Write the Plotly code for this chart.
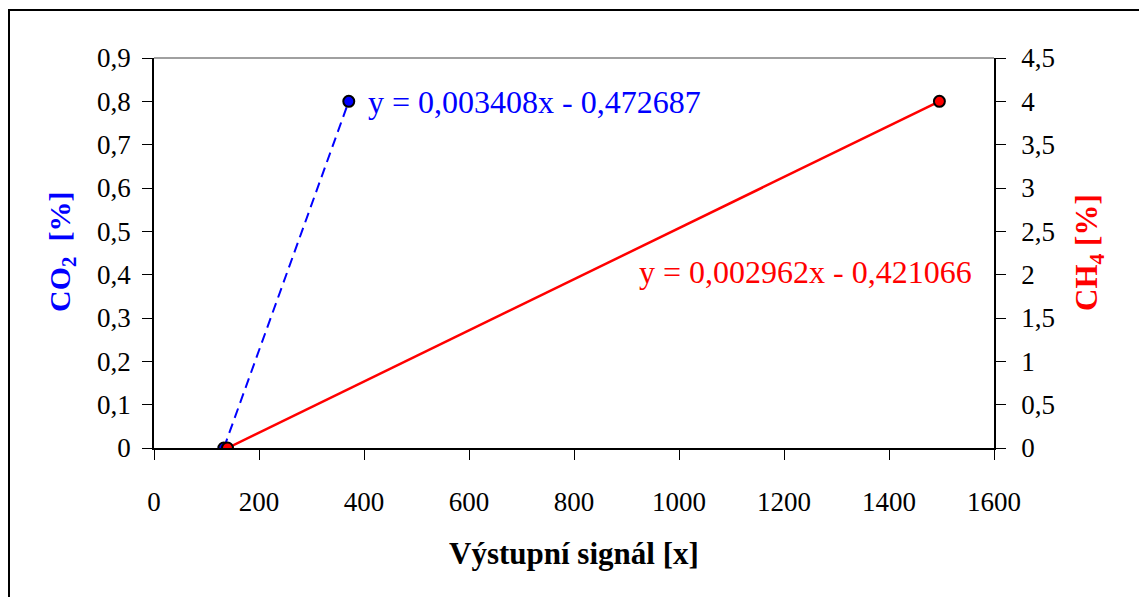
import plotly.graph_objects as go

# Data
co2_x = [133, 371]
co2_y = [0.0, 0.8]
ch4_x = [140, 1496]
ch4_y = [0.0, 4.0]

co2_eq = "y = 0,003408x - 0,472687"
ch4_eq = "y = 0,002962x - 0,421066"
x_title = "Výstupní signál [x]"
y1_title = "CO<sub>2</sub>  [%]"
y2_title = "CH<sub>4</sub> [%]"

x_ticks = [0, 200, 400, 600, 800, 1000, 1200, 1400, 1600]
y1_ticks = [0, 0.1, 0.2, 0.3, 0.4, 0.5, 0.6, 0.7, 0.8, 0.9]
y2_ticks = [0, 0.5, 1, 1.5, 2, 2.5, 3, 3.5, 4, 4.5]

FONT = "Liberation Serif"
W, H = 1139, 597
L, R, T, B = 154, 994, 58, 448

fig = go.Figure()
fig.add_trace(go.Scatter(
    x=co2_x, y=co2_y, mode="lines+markers", yaxis="y",
    line=dict(color="#0000FF", width=2, dash="10px,6px"),
    marker=dict(size=11, color="#0000FF", line=dict(color="black", width=2)),
    showlegend=False, hoverinfo="skip"))
fig.add_trace(go.Scatter(
    x=ch4_x, y=ch4_y, mode="lines+markers", yaxis="y2",
    line=dict(color="#FF0000", width=2.5),
    marker=dict(size=11, color="#FF0000", line=dict(color="black", width=2)),
    showlegend=False, hoverinfo="skip"))

axis_common = dict(
    showgrid=False, zeroline=False, showline=True, linecolor="black", linewidth=1.5,
    ticks="outside", ticklen=10, tickwidth=1, tickcolor="black",
    tickfont=dict(family=FONT, size=27, color="black"),
)

fig.update_layout(
    width=W, height=H,
    margin=dict(l=L, r=W - R, t=T, b=H - B, pad=0),
    paper_bgcolor="white", plot_bgcolor="white",
    separators=",.",
    xaxis=dict(range=[0, 1600], tickvals=x_ticks, ticklabelstandoff=19, **axis_common),
    yaxis=dict(range=[0, 0.9], tickvals=y1_ticks, ticklabelstandoff=6, **axis_common),
    yaxis2=dict(range=[0, 4.5], tickvals=y2_ticks, overlaying="y", side="right",
                ticklabelstandoff=10, **axis_common),
    font=dict(family=FONT),
)

pw, ph = R - L, B - T
def px(x):
    return (x - L) / pw
def py(y):
    return (B - y) / ph

# outer chart border
fig.add_shape(type="rect", xref="paper", yref="paper",
              x0=px(9), x1=px(1150), y0=py(610), y1=py(10),
              line=dict(color="black", width=2), fillcolor="rgba(0,0,0,0)", layer="below")
# plot area top border (gray)
fig.add_shape(type="line", xref="paper", yref="paper",
              x0=0, x1=1, y0=1, y1=1, line=dict(color="#808080", width=1.5))

fig.add_annotation(text=co2_eq, xref="paper", yref="paper", x=px(366), y=py(102),
                   xanchor="left", yanchor="middle", showarrow=False,
                   font=dict(family=FONT, size=32, color="#0000FF"))
fig.add_annotation(text=ch4_eq, xref="paper", yref="paper", x=px(637), y=py(272),
                   xanchor="left", yanchor="middle", showarrow=False,
                   font=dict(family=FONT, size=32, color="#FF0000"))

fig.add_annotation(text="<b>" + x_title + "</b>", xref="paper", yref="paper",
                   x=px(574), y=py(553), xanchor="center", yanchor="middle", showarrow=False,
                   font=dict(family=FONT, size=31, color="black"))
fig.add_annotation(text="<b>" + y1_title + "</b>", xref="paper", yref="paper",
                   x=px(62), y=py(252), xanchor="center", yanchor="middle", showarrow=False,
                   textangle=-90, font=dict(family=FONT, size=30, color="#0000FF"))
fig.add_annotation(text="<b>" + y2_title + "</b>", xref="paper", yref="paper",
                   x=px(1089), y=py(253), xanchor="center", yanchor="middle", showarrow=False,
                   textangle=-90, font=dict(family=FONT, size=31, color="#FF0000"))

fig.write_html("out.html")
